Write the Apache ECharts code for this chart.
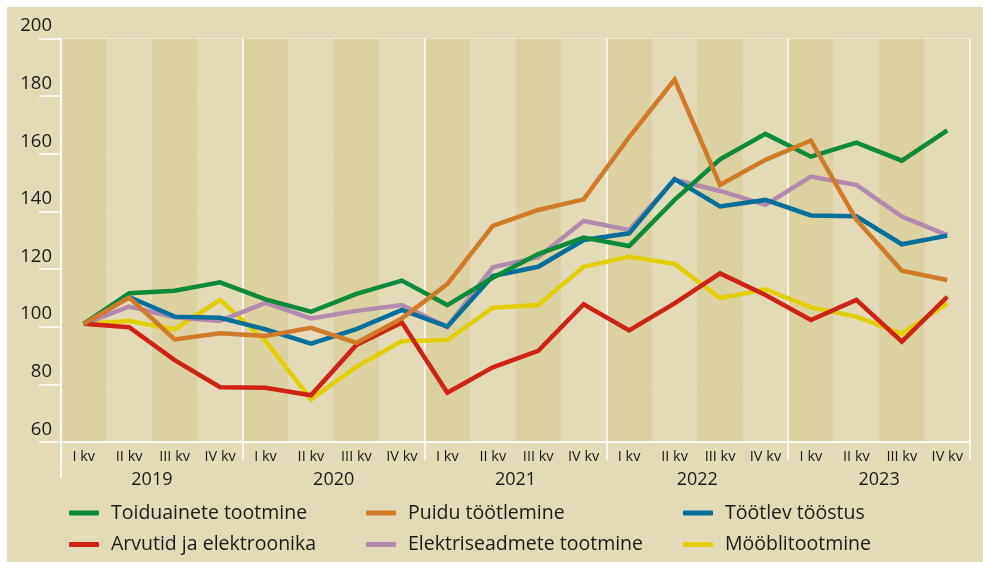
<!DOCTYPE html>
<html>
<head>
<meta charset="utf-8">
<script src="https://cdn.jsdelivr.net/npm/echarts/dist/echarts.min.js"></script>
<style>
  html, body { margin: 0; padding: 0; background: #ffffff; }
  #wrap { position: relative; width: 983px; height: 562px; background: #ffffff; }
  #main { position: absolute; left: 7px; top: 7px; width: 976px; height: 555px; background: #e3dbb8; }
</style>
</head>
<body>
<div id="wrap"><div id="main"></div></div>
<script>
// kategooriad
var quarters = ['I kv', 'II kv', 'III kv', 'IV kv',
                'I kv', 'II kv', 'III kv', 'IV kv',
                'I kv', 'II kv', 'III kv', 'IV kv',
                'I kv', 'II kv', 'III kv', 'IV kv',
                'I kv', 'II kv', 'III kv', 'IV kv'];
var years = ['2019', '2020', '2021', '2022', '2023'];

// y-telje märgid
var yMin = 60, yMax = 200, yStep = 20;

// seeriad
var toiduained = [101, 111.6, 112.5, 115.4, 109.5, 105.2, 111.4, 116, 107.5, 117, 125.2, 130.9, 128, 144, 158.1, 166.9, 159, 163.9, 157.6, 168.1];
var puit = [101, 110.1, 95.6, 97.7, 96.8, 99.6, 94.4, 102.9, 114.8, 135, 140.5, 144.2, 165.8, 185.7, 149.2, 157.9, 164.6, 137.1, 119.4, 116.2];
var tootlev = [101, 110.3, 103.5, 103.1, 99.1, 94.1, 99.2, 105.8, 100, 117.6, 120.8, 130.1, 132.4, 151.2, 141.7, 144, 138.6, 138.3, 128.6, 131.6];
var arvutid = [101, 99.8, 88.4, 79, 78.8, 76.2, 93.7, 101.5, 77.1, 85.9, 91.6, 107.8, 98.7, 108.1, 118.5, 111, 102.3, 109.3, 94.8, 110.4];
var elekter = [101, 107, 103.3, 102, 108.3, 102.9, 105.5, 107.5, 100, 120.6, 124.1, 136.7, 133.6, 151, 147.1, 142.3, 152.1, 149.2, 138.2, 131.8];
var moobel = [101, 102, 99.1, 109.3, 95, 74.8, 86.1, 95, 95.4, 106.6, 107.5, 120.8, 124.3, 121.8, 109.9, 113, 106.7, 103.5, 97.5, 108.1];

var names = ['Toiduainete tootmine', 'Puidu töötlemine', 'Töötlev tööstus',
             'Arvutid ja elektroonika', 'Elektriseadmete tootmine', 'Mööblitootmine'];
var colors = {
    'Toiduainete tootmine': '#0b8a3b',
    'Puidu töötlemine': '#d17b29',
    'Töötlev tööstus': '#046f9a',
    'Arvutid ja elektroonika': '#cf2213',
    'Elektriseadmete tootmine': '#b28aad',
    'Mööblitootmine': '#e1cf00'
};
var seriesData = {
    'Toiduainete tootmine': toiduained,
    'Puidu töötlemine': puit,
    'Töötlev tööstus': tootlev,
    'Arvutid ja elektroonika': arvutid,
    'Elektriseadmete tootmine': elekter,
    'Mööblitootmine': moobel
};
// joonistamise järjekord (alumine enne)
var drawOrder = ['Mööblitootmine', 'Elektriseadmete tootmine', 'Arvutid ja elektroonika',
                 'Töötlev tööstus', 'Toiduainete tootmine', 'Puidu töötlemine'];

var font = 'Open Sans';
var textColor = '#1a1a1a';
var white = '#ffffff';

var series = drawOrder.map(function(n){
    return {
        name: n,
        type: 'line',
        data: seriesData[n],
        symbol: 'none',
        lineStyle: { color: colors[n], width: 4.5, join: 'miter' },
        itemStyle: { color: colors[n] },
        animation: false
    };
});

function legendCol(left, items){
    return {
        orient: 'vertical',
        left: left,
        top: 496,
        padding: 0,
        itemGap: 11.6,
        itemWidth: 30,
        itemHeight: 5,
        icon: 'roundRect',
        selectedMode: false,
        data: items,
        textStyle: { fontFamily: font, fontSize: 19.5, color: textColor, lineHeight: 20, padding: [0, 0, 0, 7] }
    };
}

var chart = echarts.init(document.getElementById('main'), null, { renderer: 'canvas' });
chart.setOption({
    animation: false,
    grid: { left: 54, right: 13, top: 31.5, bottom: 120 },
    legend: [
        legendCol(62, [names[0], names[3]]),
        legendCol(359, [names[1], names[4]]),
        legendCol(676, [names[2], names[5]])
    ],
    // vasaku telje pikendus aastate reani
    graphic: [{
        type: 'line',
        shape: { x1: 54, y1: 435, x2: 54, y2: 471 },
        style: { stroke: white, lineWidth: 1.5 },
        silent: true
    }],
    xAxis: [
        {
            type: 'category',
            data: quarters,
            boundaryGap: true,
            axisLine: { show: true, lineStyle: { color: white, width: 1.5 } },
            axisTick: {
                show: true,
                length: 18,
                interval: function(i){ return i % 4 === 0; },
                lineStyle: { color: white, width: 1.5 }
            },
            axisLabel: { interval: 0, margin: 7, fontFamily: font, fontSize: 14.5, color: textColor },
            splitLine: {
                show: true,
                interval: function(i){ return i % 4 === 0; },
                lineStyle: { color: white, width: 1.5 }
            },
            splitArea: { show: true, interval: 0, areaStyle: { color: ['#dcd2a1', '#e3dbb8'] } }
        },
        {
            type: 'category',
            data: years,
            position: 'bottom',
            boundaryGap: true,
            axisLine: { show: false },
            axisTick: { show: false },
            axisLabel: { interval: 0, margin: 29, fontFamily: font, fontSize: 18, color: textColor },
            splitLine: { show: false }
        }
    ],
    yAxis: {
        type: 'value',
        min: yMin,
        max: yMax,
        interval: yStep,
        axisLine: { show: true, lineStyle: { color: white, width: 1.5 } },
        axisTick: { show: true, length: 22, lineStyle: { color: white, width: 1.5 } },
        axisLabel: {
            margin: 9,
            fontFamily: font,
            fontSize: 18.5,
            color: textColor,
            verticalAlign: 'bottom',
            padding: [0, 0, 3, 0]
        },
        splitLine: { show: true, lineStyle: { color: white, width: 1.5 } }
    },
    series: series
});
</script>
</body>
</html>
